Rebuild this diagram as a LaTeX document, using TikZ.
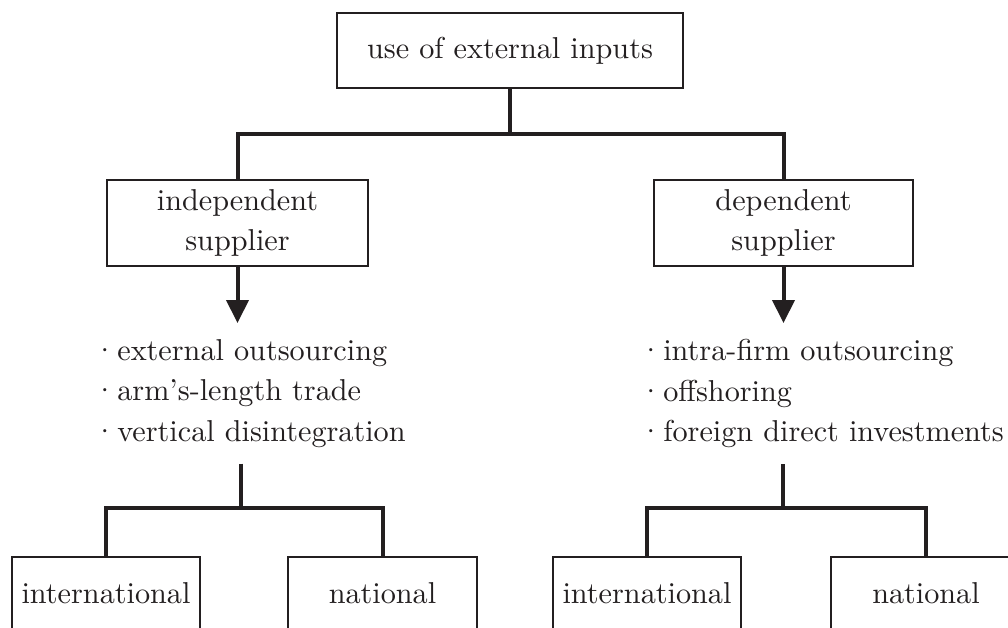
\documentclass[tikz,border=0pt]{standalone}
\usepackage{fontspec}
\setmainfont{lmroman10-regular}[Extension=.otf]
\usetikzlibrary{arrows.meta}
\definecolor{ink}{RGB}{35,31,32}
\newcommand\bul{\llap{\makebox[0.5cm]{·}}}
\begin{document}
\begin{tikzpicture}[x=0.02cm,y=-0.02cm,
  every node/.style={font=\fontsize{17.2}{23}\selectfont, text=ink},
  box/.style={draw=ink, line width=0.055cm, inner sep=0pt, align=center},
  conn/.style={draw=ink, line width=0.08cm},
  arr/.style={conn, -{Triangle[width=0.44cm,length=0.46cm]}},
  lst/.style={anchor=north west, align=left, inner xsep=0pt, inner ysep=0.32cm}]
\clip (0,0) rectangle (1008,627);
\node[box, minimum width=346*0.02cm, minimum height=75*0.02cm] (top) at (510,50.5) {use of external inputs};
\node[box, minimum width=261*0.02cm, minimum height=86*0.02cm] (ind) at (237.5,223) {independent\\supplier};
\node[box, minimum width=259*0.02cm, minimum height=86*0.02cm] (dep) at (783.5,223) {dependent\\supplier};
\node[lst] (lst1) at (117,323) {\bul external outsourcing\\\bul arm’s-length trade\\\bul vertical disintegration};
\node[lst] (lst2) at (663,323) {\bul intra-firm outsourcing\\\bul offshoring\\\bul foreign direct investments};
\node[box, minimum width=188*0.02cm, minimum height=73*0.02cm] (b1) at (106,593.5) {international};
\node[box, minimum width=189*0.02cm, minimum height=73*0.02cm] (b2) at (382.5,593.5) {national};
\node[box, minimum width=188*0.02cm, minimum height=73*0.02cm] (b3) at (647,593.5) {international};
\node[box, minimum width=190*0.02cm, minimum height=73*0.02cm] (b4) at (926,593.5) {national};
\coordinate (j1) at (510,134);
\coordinate (j2) at (241,508);
\coordinate (j3) at (783,508);
\draw[conn] (top.south) -- (j1);
\draw[conn] (ind.north) -- (ind.north |- j1) -- (dep.north |- j1) -- (dep.north);
\draw[arr] (ind.south) -- (ind.south |- lst1.north);
\draw[arr] (dep.south) -- (dep.south |- lst2.north);
\draw[conn] (j2 |- lst1.south) -- (j2);
\draw[conn] (b1.north) |- (j2) -| (b2.north);
\draw[conn] (j3 |- lst2.south) -- (j3);
\draw[conn] (b3.north) |- (j3) -| (b4.north);
\end{tikzpicture}
\end{document}
